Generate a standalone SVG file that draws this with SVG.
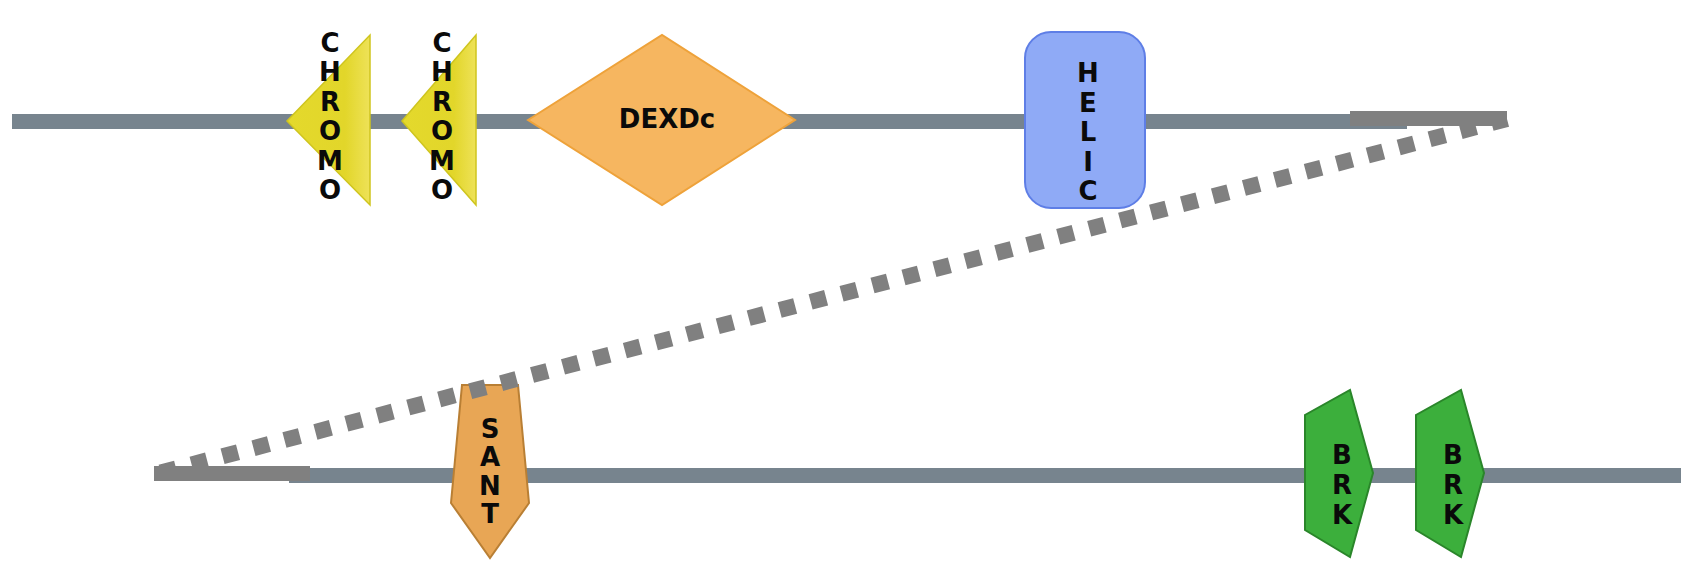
<svg xmlns="http://www.w3.org/2000/svg" width="1681" height="561" viewBox="0 0 1681 561">
<defs>
<linearGradient id="yel" x1="0" y1="0" x2="1" y2="0">
<stop offset="0" stop-color="#e4d92c"/>
<stop offset="0.7" stop-color="#e2d62a"/>
<stop offset="1" stop-color="#eee258"/>
</linearGradient>
</defs>
<style>
.bb{fill:#77848e}
.lab{font-family:"DejaVu Sans",Verdana,sans-serif;font-weight:bold;font-size:26px;fill:#0a0a0a;text-anchor:middle}
.chromo{fill:url(#yel);stroke:#cfc51e;stroke-width:1.5}
.brk{fill:#3caf3c;stroke:#2a862a;stroke-width:2}
.gap{fill:#808080}
</style>
<g id="backbones">
<rect class="bb" x="12" y="114" width="1395" height="15"/>
<rect class="bb" x="289" y="468" width="1392" height="15"/>
</g>
<g id="chromo1">
<polygon class="chromo" points="370,35 370,205 287,121"/>
<text class="lab" x="330" y="51.5"><tspan x="330">C</tspan><tspan x="330" dy="29.5">H</tspan><tspan x="330" dy="29.5">R</tspan><tspan x="330" dy="29.5">O</tspan><tspan x="330" dy="29.5">M</tspan><tspan x="330" dy="29.5">O</tspan></text>
</g>
<g id="chromo2">
<polygon class="chromo" points="476,35 476,205 402,121"/>
<text class="lab" x="442" y="51.5"><tspan x="442">C</tspan><tspan x="442" dy="29.5">H</tspan><tspan x="442" dy="29.5">R</tspan><tspan x="442" dy="29.5">O</tspan><tspan x="442" dy="29.5">M</tspan><tspan x="442" dy="29.5">O</tspan></text>
</g>
<g id="dexdc">
<polygon points="528,120 662,35 795,120 662,205" fill="#f6b660" stroke="#eea23a" stroke-width="2"/>
<text class="lab" x="667" y="128">DEXDc</text>
</g>
<g id="helic">
<rect x="1025" y="32" width="120" height="176" rx="26" ry="26" fill="#8faaf6" stroke="#5e7ee6" stroke-width="2"/>
<text class="lab" x="1088" y="82" fill="#101838"><tspan x="1088">H</tspan><tspan x="1088" dy="29.5">E</tspan><tspan x="1088" dy="29.5">L</tspan><tspan x="1088" dy="29.5">I</tspan><tspan x="1088" dy="29.5">C</tspan></text>
</g>
<g id="sant">
<polygon points="462,385 518,385 529,503 490,558 451,503" fill="#e8a655" stroke="#b97f34" stroke-width="2"/>
<text class="lab" x="490" y="437.5"><tspan x="490">S</tspan><tspan x="490" dy="28.5">A</tspan><tspan x="490" dy="28.5">N</tspan><tspan x="490" dy="28.5">T</tspan></text>
</g>
<g id="brk1">
<polygon class="brk" points="1350,390 1373,473 1350,557 1305,530 1305,415"/>
<text class="lab" x="1342" y="464"><tspan x="1342">B</tspan><tspan x="1342" dy="30">R</tspan><tspan x="1342" dy="30">K</tspan></text>
</g>
<g id="brk2">
<polygon class="brk" points="1461,390 1484,473 1461,557 1416,530 1416,415"/>
<text class="lab" x="1453" y="464"><tspan x="1453">B</tspan><tspan x="1453" dy="30">R</tspan><tspan x="1453" dy="30">K</tspan></text>
</g>
<g id="connectors">
<rect class="gap" x="1350" y="111" width="157" height="15"/>
<rect class="gap" x="154" y="466" width="156" height="15"/>
<line x1="1507" y1="119" x2="157" y2="473.5" stroke="#808080" stroke-width="16" stroke-dasharray="16 16"/>
</g>
</svg>
